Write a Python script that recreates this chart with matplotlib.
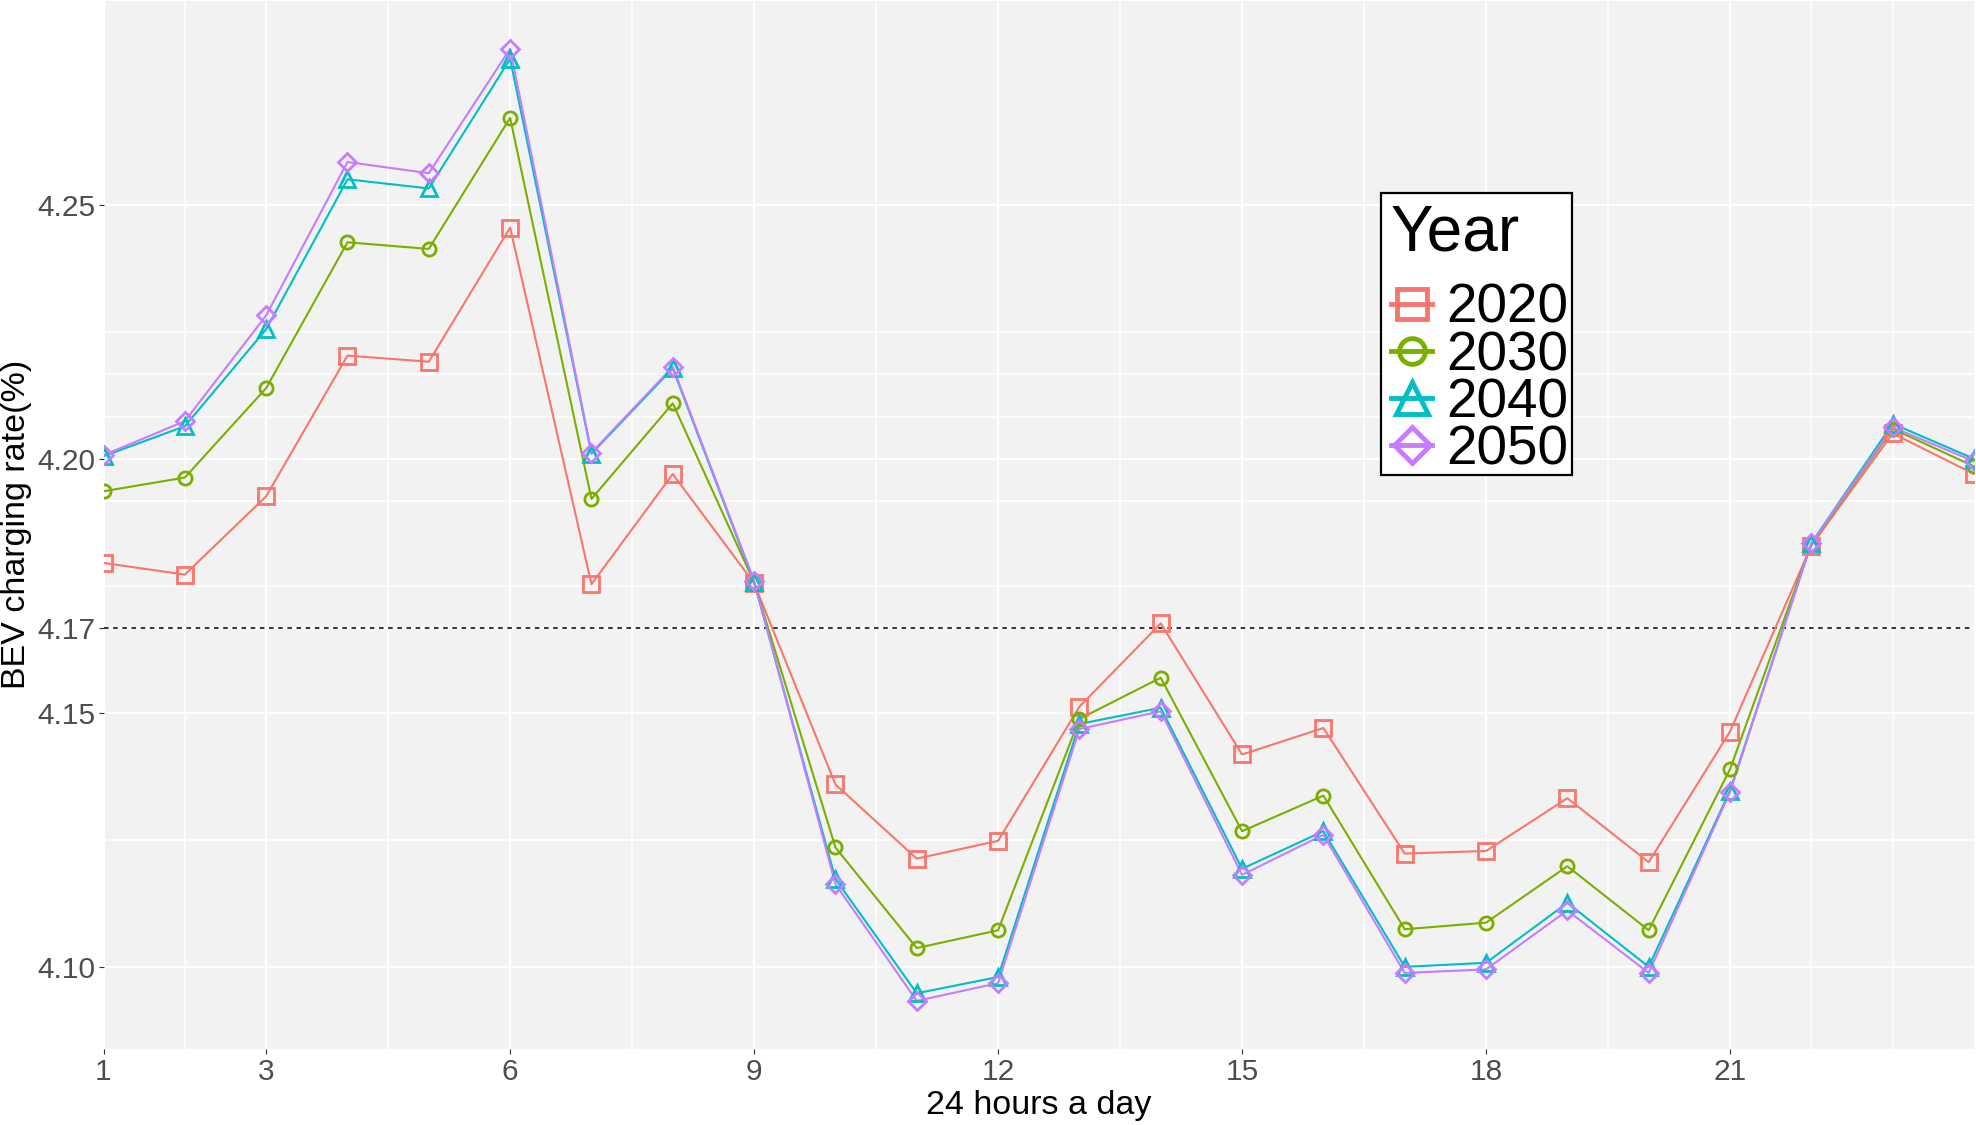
import matplotlib
matplotlib.use("Agg")
import matplotlib.pyplot as plt
from matplotlib.lines import Line2D
from matplotlib.patches import Rectangle

hours = list(range(1, 25))
years = ["2020", "2030", "2040", "2050"]

rate_2020 = [4.1795, 4.1772, 4.1926, 4.2203, 4.2191, 4.2455, 4.1753, 4.1970,
             4.1755, 4.1359, 4.1213, 4.1248, 4.1512, 4.1676, 4.1418, 4.1470,
             4.1223, 4.1228, 4.1332, 4.1206, 4.1463, 4.1829, 4.2050, 4.1970]
rate_2030 = [4.1936, 4.1963, 4.2139, 4.2426, 4.2413, 4.2671, 4.1921, 4.2109,
             4.1757, 4.1235, 4.1037, 4.1072, 4.1488, 4.1569, 4.1267, 4.1337,
             4.1074, 4.1087, 4.1198, 4.1072, 4.1389, 4.1832, 4.2059, 4.1985]
rate_2040 = [4.2005, 4.2064, 4.2255, 4.2550, 4.2532, 4.2787, 4.2010, 4.2178,
             4.1757, 4.1173, 4.0948, 4.0980, 4.1478, 4.1510, 4.1193, 4.1267,
             4.1000, 4.1008, 4.1126, 4.1000, 4.1347, 4.1834, 4.2069, 4.2000]
rate_2050 = [4.2007, 4.2074, 4.2282, 4.2584, 4.2562, 4.2807, 4.2012, 4.2181,
             4.1760, 4.1163, 4.0933, 4.0968, 4.1468, 4.1503, 4.1181, 4.1260,
             4.0988, 4.0995, 4.1111, 4.0988, 4.1344, 4.1834, 4.2062, 4.1995]
series = [rate_2020, rate_2030, rate_2040, rate_2050]

colors = ["#F8766D", "#7CAE00", "#00BFC4", "#C77CFF"]
markers = ["s", "o", "^", "D"]
msizes = [11, 9.5, 11.5, 9.2]

x_ticks = [1, 3, 6, 9, 12, 15, 18, 21]
x_minor = [2, 4.5, 7.5, 10.5, 13.5, 16.5, 19.5, 22, 23]
y_ticks = [4.10, 4.15, 100 / 24, 4.20, 4.25]
y_tick_labels = ["4.10", "4.15", "4.17", "4.20", "4.25"]
y_minor = [4.125, 4.175, 4.1917, 4.2083, 4.2167, 4.225]
mean_rate = 100 / 24

plt.rcParams["font.family"] = ["Liberation Sans", "DejaVu Sans"]

W, H = 1976, 1125
fig = plt.figure(figsize=(W / 100, H / 100), dpi=100)
ax = fig.add_axes([103.5 / W, 1 - 1048.5 / H, (1974 - 103.5) / W, 1048.5 / H - 0.001])
ax.set_facecolor("#F2F2F2")
for s in ax.spines.values():
    s.set_visible(False)

for vals, c in zip(series, colors):
    ax.plot(hours, vals, color=c, lw=1.5, zorder=3, solid_joinstyle="round")
for vals, c, m, ms in zip(series, colors, markers, msizes):
    ax.plot(hours, vals, linestyle="none", marker=m, markersize=ms,
            markerfacecolor="none", markeredgecolor=c, markeredgewidth=2.0, zorder=4)

ax.axhline(mean_rate, color="black", lw=1.1, dashes=(3, 3), zorder=2.5)

ax.set_xlim(1, 24)
lo = min(min(v) for v in series)
hi = max(max(v) for v in series)
pad = 0.05 * (hi - lo)
ax.set_ylim(lo - pad, hi + pad)

ax.set_xticks(x_ticks)
ax.set_xticks(x_minor, minor=True)
ax.set_yticks(y_ticks)
ax.set_yticklabels(y_tick_labels)
ax.set_yticks(y_minor, minor=True)
ax.grid(which="major", color="white", lw=1.6, zorder=0)
ax.grid(which="minor", color="white", lw=1.2, zorder=0)
ax.set_axisbelow(True)
ax.tick_params(which="major", length=3.5, width=0.8, color="#333333",
               labelcolor="#4D4D4D", labelsize=21.5, pad=2)
ax.tick_params(which="minor", length=0)
ax.tick_params(axis="x", pad=3)

ax.set_xlabel("24 hours a day", fontsize=24.5, color="black", labelpad=3)
ax.set_ylabel("BEV charging rate(%)", fontsize=24.5, color="black", labelpad=4)

# legend box (frame drawn separately so its padding matches the reference)
box = Rectangle((1381 / W, 1 - 475 / H), (1572 - 1381) / W, (475 - 192.5) / H,
                transform=fig.transFigure, facecolor="white", edgecolor="black",
                lw=1.6, zorder=9, clip_on=False)
ax.add_artist(box)

handles = [Line2D([0], [0], color=c, lw=3.5, marker=m, markersize=ms * 1.95,
                  markerfacecolor="none", markeredgecolor=c, markeredgewidth=3.5)
           for c, m, ms in zip(colors, markers, msizes)]
leg = ax.legend(handles, years, title="Year", loc="upper left",
                bbox_to_anchor=(1380 / W, 1 - 192.5 / H), bbox_transform=fig.transFigure,
                borderaxespad=0, fontsize=39.5, title_fontsize=46, alignment="left",
                frameon=False, labelspacing=-0.087, handlelength=0.75, handletextpad=0.25,
                borderpad=0.2)
leg.set_zorder(10)
# extra gap between the legend title and its entries
leg._legend_box.sep = 14

fig.savefig("out.png", dpi=100)
